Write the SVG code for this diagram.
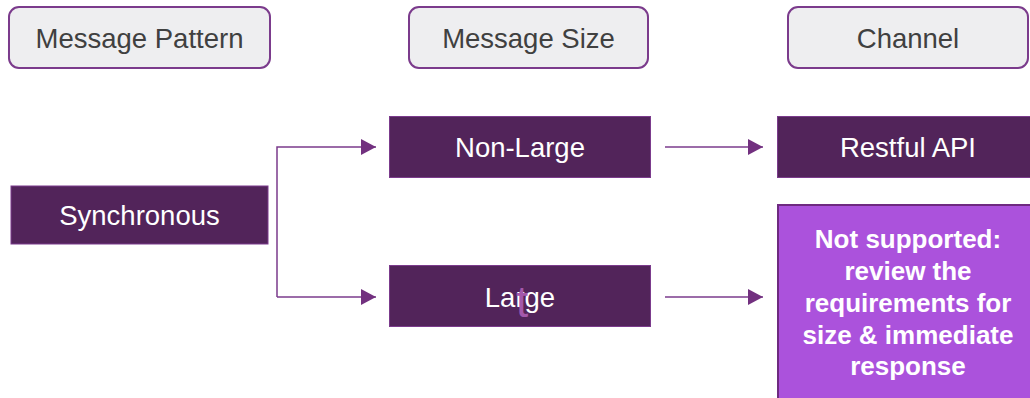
<svg xmlns="http://www.w3.org/2000/svg" width="1030" height="398" viewBox="0 0 1030 398">
<style>
.hdr rect{fill:#eeeef0;stroke:#7b3b8c;stroke-width:2}
.hdr text{font-family:"Liberation Sans",Arial,sans-serif;font-size:27.5px;fill:#404040;text-anchor:middle}
.box rect{fill:#52245a;stroke:#7b3b8c;stroke-width:1}
.box text{font-family:"Liberation Sans",Arial,sans-serif;font-size:27.5px;fill:#ffffff;text-anchor:middle}
.warn rect{fill:#ab52dc;stroke:#6e2a80;stroke-width:2}
.warn text{font-family:"Liberation Sans",Arial,sans-serif;font-size:26px;font-weight:bold;fill:#ffffff;text-anchor:middle}
.conn path{fill:none;stroke:#7b3b8c;stroke-width:1.5}
</style>
<defs>
<marker id="ah" markerWidth="16" markerHeight="16" refX="15" refY="8" orient="auto" markerUnits="userSpaceOnUse">
<path d="M0,0 L15,8 L0,16 Z" fill="#72307f"/>
</marker>
</defs>
<g id="hdr-pattern" class="hdr"><rect x="9" y="7" width="261" height="61" rx="10"/><text x="139.5" y="48">Message Pattern</text></g>
<g id="hdr-size" class="hdr"><rect x="409" y="7" width="239" height="61" rx="10"/><text x="528.5" y="48">Message Size</text></g>
<g id="hdr-channel" class="hdr"><rect x="788" y="7" width="240" height="61" rx="10"/><text x="908" y="48">Channel</text></g>
<g id="synchronous" class="box"><rect x="11" y="186" width="257" height="58"/><text x="139.5" y="225">Synchronous</text></g>
<g id="non-large" class="box"><rect x="389.5" y="116.5" width="261" height="61"/><text x="520" y="157">Non-Large</text></g>
<g id="large" class="box"><rect x="389.5" y="265.5" width="261" height="61"/><text x="520" y="307">Large</text><text x="516" y="317" style="font-size:44px;fill:#a458ab;text-anchor:start">t</text></g>
<g id="restful" class="box"><rect x="777.5" y="116.5" width="254" height="61"/><text x="908" y="157">Restful API</text></g>
<g id="not-supported" class="warn"><rect x="778" y="205" width="254" height="196"/>
<text x="908" y="248">Not supported:</text>
<text x="908" y="280">review the</text>
<text x="908" y="312">requirements for</text>
<text x="908" y="344">size &amp; immediate</text>
<text x="908" y="375">response</text></g>
<g id="connectors" class="conn">
<path d="M277,297 V147 H376" marker-end="url(#ah)"/>
<path d="M277,297 H376" marker-end="url(#ah)"/>
<path d="M665,147 H763" marker-end="url(#ah)"/>
<path d="M665,297 H763" marker-end="url(#ah)"/>
</g>
</svg>
